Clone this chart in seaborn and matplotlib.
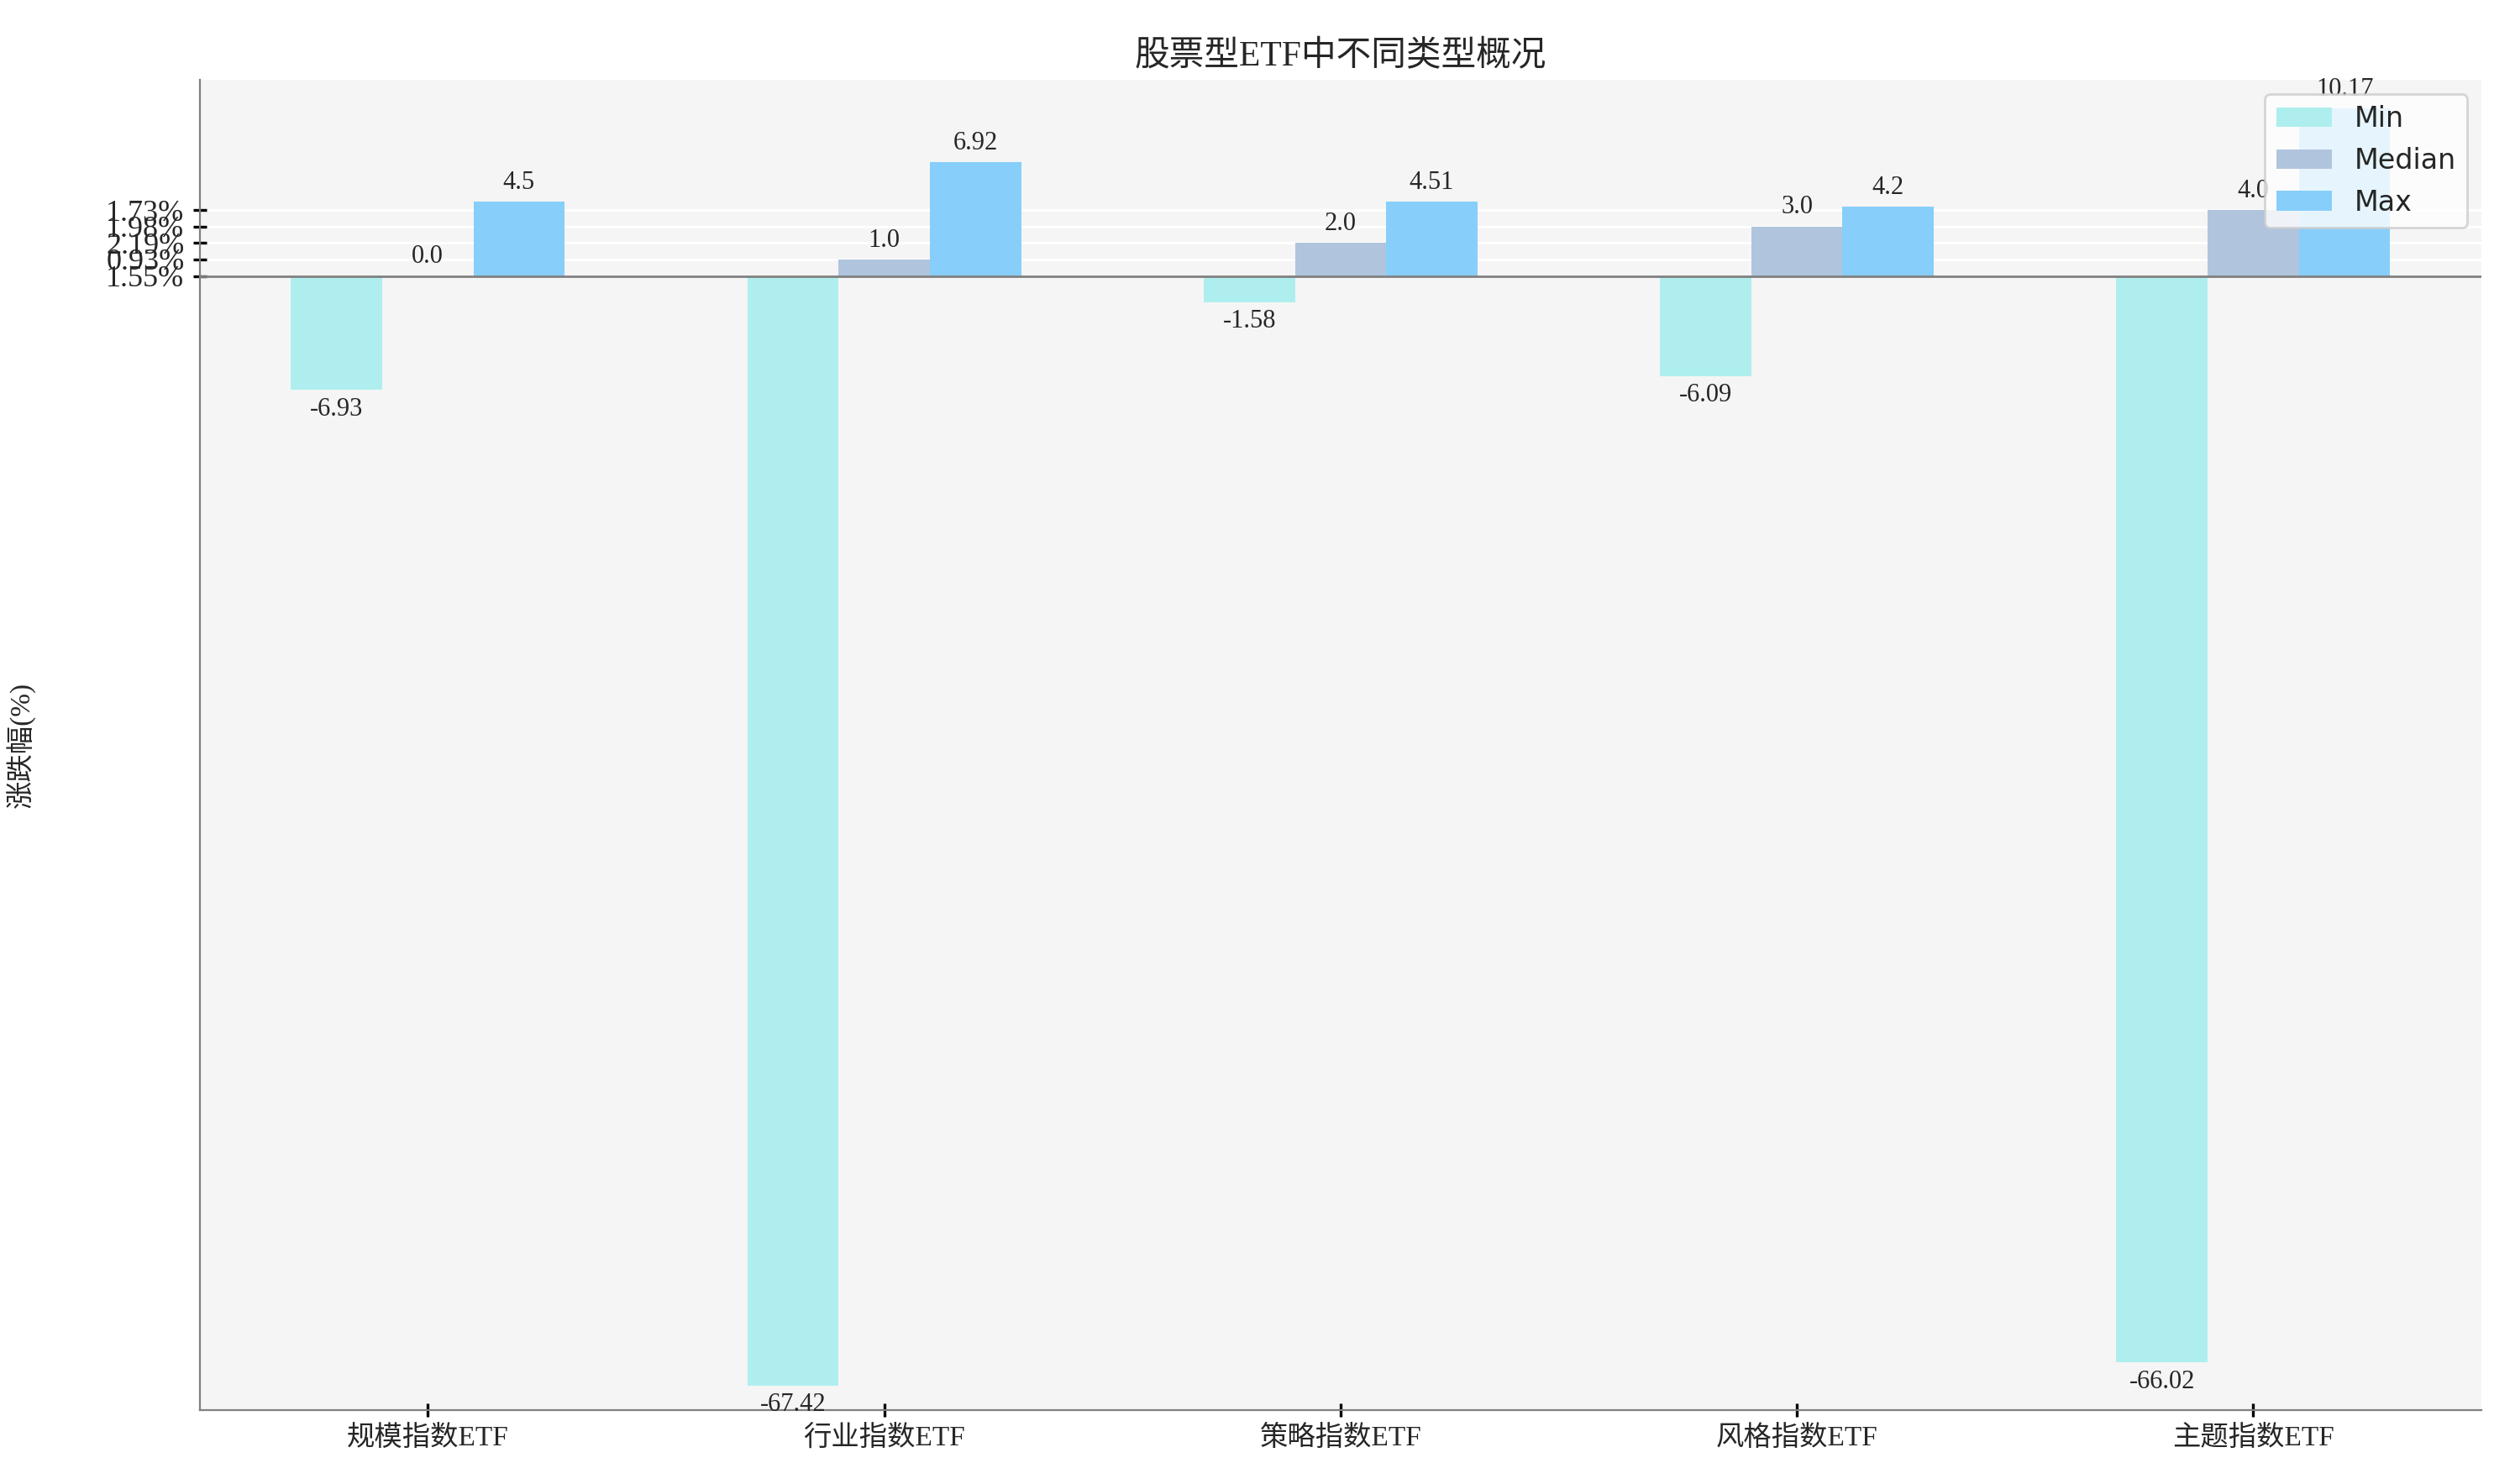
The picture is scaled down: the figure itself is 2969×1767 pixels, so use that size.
import pandas as pd
import numpy as np
import seaborn as sns
import matplotlib.pyplot as plt

categories = ["规模指数ETF", "行业指数ETF", "策略指数ETF", "风格指数ETF", "主题指数ETF"]
min_vals = [-6.93, -67.42, -1.58, -6.09, -66.02]
median_vals = [0.0, 1.0, 2.0, 3.0, 4.0]
max_vals = [4.5, 6.92, 4.51, 4.2, 10.17]
ytick_pos = [0, 1, 2, 3, 4]
ytick_labels = ["1.55%", "0.93%", "2.19%", "1.98%", "1.73%"]

df = pd.DataFrame({
    "cat": categories * 3,
    "stat": ["Min"] * 5 + ["Median"] * 5 + ["Max"] * 5,
    "val": min_vals + median_vals + max_vals,
})

sns.set_style("white")
serif = ["Liberation Serif", "Noto Sans CJK SC", "DejaVu Sans"]
plt.rcParams["axes.unicode_minus"] = False

fig, ax = plt.subplots(figsize=(14.845, 8.835), dpi=200)
ax.set_facecolor("whitesmoke")
sns.barplot(data=df, x="cat", y="val", hue="stat", ax=ax, width=0.6,
            palette=["paleturquoise", "lightsteelblue", "lightskyblue"],
            saturation=1, zorder=2, linewidth=0, edgecolor="none")

for cont in ax.containers:
    vals = [b.get_height() for b in cont]
    lbls = [str(round(v, 2)) for v in vals]
    t = ax.bar_label(cont, labels=lbls, padding=3)
    for tx in t:
        tx.set_fontfamily(serif)
        tx.set_fontsize(11)

ax.axhline(0, color="grey", lw=1, zorder=3)
ax.set_ylim(-68.9, 11.9)
ax.set_yticks(ytick_pos)
ax.set_yticklabels(ytick_labels, fontfamily=serif, fontsize=13)
ax.yaxis.grid(True, color="white", lw=1, zorder=0)
ax.set_xticks(range(5))
ax.set_xticklabels(categories, fontfamily=serif, fontsize=12)
ax.tick_params(axis="both", direction="inout", length=6, width=1.2, color="black", left=True, bottom=True)
ax.set_xlabel("")
ax.set_ylabel("涨跌幅(%)", fontfamily=serif, fontsize=12, labelpad=30)
ax.set_title("股票型ETF中不同类型概况", fontfamily=serif, fontsize=15)
for s in ["top", "right"]:
    ax.spines[s].set_visible(False)
for s in ["left", "bottom"]:
    ax.spines[s].set_color("grey")
ax.set_xlim(-0.5, 4.5)
ax.legend(loc="upper right", fontsize=12, title=None)

fig.subplots_adjust(left=0.080, right=0.995, top=0.946, bottom=0.050)
plt.savefig("out.png", dpi=200)
plt.close()
